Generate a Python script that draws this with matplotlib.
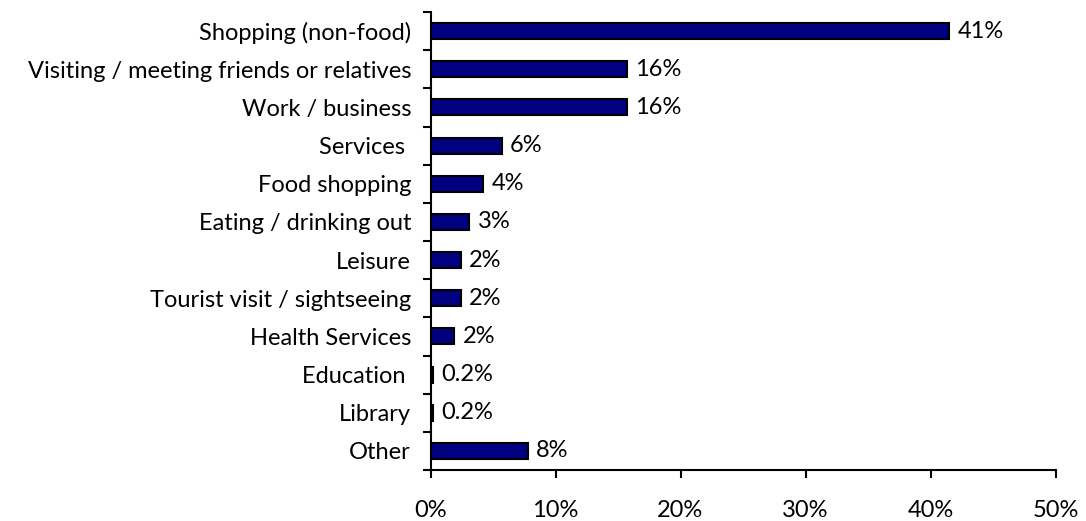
import matplotlib.pyplot as plt
from matplotlib.ticker import FixedLocator, PercentFormatter

plt.rcParams['font.family'] = ['Lato', 'DejaVu Sans']

# reasons for visit, top to bottom
categories = ['Shopping (non-food)', 'Visiting / meeting friends or relatives',
              'Work / business', 'Services ', 'Food shopping',
              'Eating / drinking out', 'Leisure', 'Tourist visit / sightseeing',
              'Health Services', 'Education ', 'Library', 'Other']
shares = [41.5, 15.7, 15.7, 5.7, 4.2, 3.1, 2.4, 2.4, 1.9, 0.2, 0.2, 7.8]
value_labels = ['41%', '16%', '16%', '6%', '4%', '3%', '2%', '2%', '2%',
                '0.2%', '0.2%', '8%']
x_ticks = [0, 10, 20, 30, 40, 50]

fs = 17

fig = plt.figure(figsize=(10.86, 5.21), dpi=100)
ax = fig.add_axes([430.5 / 1086, 1 - 470 / 521, 625 / 1086, 458 / 521])

pos = list(range(len(categories)))
ax.barh(pos, shares, height=0.42, color='#000080', edgecolor='black', linewidth=1.5)

for p, v, lab in zip(pos, shares, value_labels):
    ax.annotate(lab, (v, p), xytext=(6, 0), textcoords='offset points',
                va='center', ha='left', fontsize=fs)

ax.set_xlim(0, 50)
ax.set_ylim(len(categories) - 0.5, -0.5)

ax.set_yticks(pos)
ax.set_yticklabels(categories, fontsize=fs)
ax.yaxis.set_minor_locator(FixedLocator([i - 0.5 for i in range(len(categories) + 1)]))
ax.tick_params(axis='y', which='major', length=0, pad=14)
ax.tick_params(axis='y', which='minor', length=5.5, width=1.5)

ax.set_xticks(x_ticks)
ax.xaxis.set_major_formatter(PercentFormatter(decimals=0))
ax.tick_params(axis='x', length=5.5, width=1.5, labelsize=fs, pad=16)

for s in ['top', 'right']:
    ax.spines[s].set_visible(False)
ax.spines['left'].set_linewidth(1.5)
ax.spines['bottom'].set_linewidth(1.5)

fig.savefig('out.png', dpi=100)
